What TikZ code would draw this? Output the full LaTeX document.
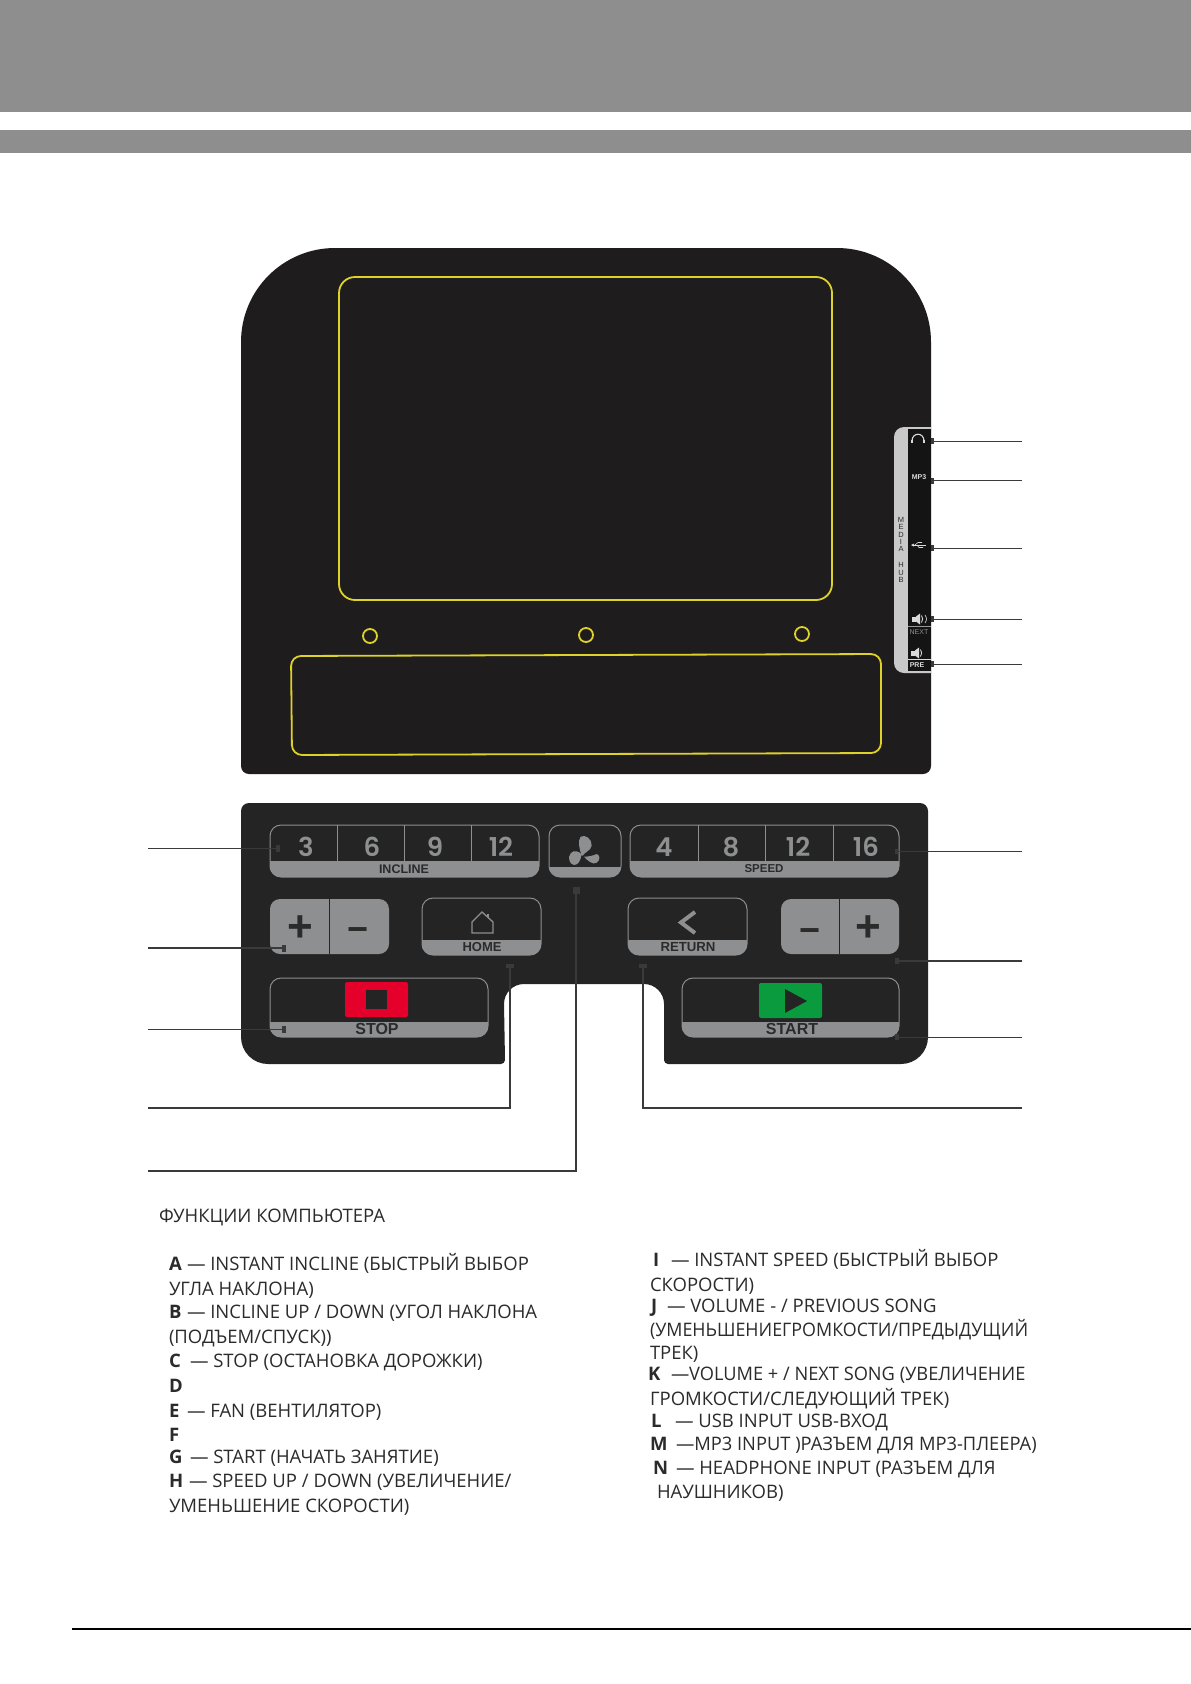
\documentclass[tikz,border=0pt]{standalone}
\usepackage{fontspec}
\setmainfont{Open Sans}[FakeStretch=0.995]
\newfontfamily\digitf{Poppins}[BoldFont=* SemiBold]
\newfontfamily\labf{Liberation Sans}
\definecolor{topgray}{HTML}{8F8E8E}
\definecolor{panelA}{HTML}{1F1C1D}
\definecolor{panelB}{HTML}{242424}
\definecolor{btngray}{HTML}{8E8F90}
\definecolor{yel}{HTML}{DDD22A}
\definecolor{lead}{HTML}{3A3A3A}
\definecolor{txtc}{HTML}{2B2B2B}
\definecolor{redb}{HTML}{E4002B}
\definecolor{greenb}{HTML}{0A9B3E}
\definecolor{hubg}{HTML}{C9C9C9}
\definecolor{hubw}{HTML}{DADADA}
\tikzset{
  ybox/.style={draw=yel,line width=1.8pt},
  txt/.style={anchor=base west,inner sep=0pt,outer sep=0pt,text=txtc,font=\fontsize{18.6}{20}\selectfont},
  key/.style={anchor=base west,inner sep=0pt,outer sep=0pt,text=txtc,font=\fontsize{18.6}{20}\selectfont\bfseries},
  digit/.style={inner sep=0pt,text=btngray,font=\fontsize{26}{27}\selectfont\digitf\bfseries},
  blab/.style={inner sep=0pt,text=txtc,font=\labf\bfseries},
  sym/.style={inner sep=0pt,text=txtc,font=\fontsize{44}{44}\selectfont\labf\bfseries},
  hubt/.style={inner sep=0pt,text=hubw,font=\fontsize{7}{8}\selectfont\labf\bfseries},
  mk/.style={fill=lead,draw=none,inner sep=0pt,minimum width=#1},
  leader/.style={draw=lead,line width=0.9pt},
  leaderb/.style={draw=lead,line width=1.5pt}
}
\newcommand{\btnbox}[5]{%
  \begin{scope}
    \clip[rounded corners=11pt] (#1,#2) rectangle (#3,#4);
    \fill[btngray] (#1,#5) rectangle (#3,#4);
  \end{scope}
  \draw[btngray,line width=1pt,rounded corners=11pt] (#1,#2) rectangle (#3,#4);
}
\newcommand{\pmbox}[5]{%
  \fill[btngray,rounded corners=10pt] (#1,#2) rectangle (#3,#4);
  \draw[panelB,line width=1pt] (#5,#2) -- (#5,#4);
}
\newcommand{\spk}[2]{%
  \fill[hubw] (#1-6,#2-2.5) rectangle (#1-2,#2+2.5);
  \fill[hubw] (#1-2,#2-2.5) -- (#1+2,#2-5.5) -- (#1+2,#2+5.5) -- (#1-2,#2+2.5) -- cycle;
  \draw[hubw,line width=.9pt] (#1+3.5,#2-3.5) .. controls (#1+5,#2-1) and (#1+5,#2+1) .. (#1+3.5,#2+3.5);
}
\newcommand{\xs}[2]{\scalebox{#1}[1]{#2}}
\begin{document}
\begin{tikzpicture}[x=1pt,y=-1pt]
\useasboundingbox (0,0) rectangle (1191,1684);
\fill[white] (0,0) rectangle (1191,1684);
% header bars
\fill[topgray] (0,0) rectangle (1191,112);
\fill[topgray] (0,130) rectangle (1191,153);
\draw[black,line width=1.6pt] (72,1629) -- (1191,1629);
% top panel
\fill[panelA] (241,342) arc[start angle=180,end angle=270,radius=94] -- (837,248)
  arc[start angle=270,end angle=360,radius=94] -- (931,766)
  arc[start angle=0,end angle=90,radius=8] -- (249,774)
  arc[start angle=90,end angle=180,radius=8] -- cycle;
\draw[ybox,rounded corners=16pt] (339,277) rectangle (832,600);
\draw[ybox] (370,636) circle[radius=7];
\draw[ybox] (586,635) circle[radius=7];
\draw[ybox] (802,634) circle[radius=7];
\draw[ybox,rounded corners=10pt] (291,656) -- (881,654) -- (881,753) -- (292,755) -- cycle;
% media hub
\fill[hubg] (931,427) -- (904,427) arc[start angle=270,end angle=180,radius=10] -- (894,663)
  arc[start angle=180,end angle=90,radius=10] -- (931,673) -- cycle;
\fill[black!92] (908,429) rectangle (931,671);
\node[inner sep=0pt,align=center,text=txtc,font=\fontsize{7.5}{7.3}\selectfont\labf] (hub) at (901,550)
  {M\\E\\D\\I\\A\\[1.5pt]\mbox{}\\[0pt]H\\U\\B};
% headphones
\draw[hubw,line width=1.1pt] (912,441) .. controls (912,432) and (924,432) .. (924,441);
\fill[hubw] (911,440) rectangle (913,443);
\fill[hubw] (923,440) rectangle (925,443);
\node[hubt] (mp3) at (919,477) {MP3};
% usb
\draw[hubw,line width=.8pt] (912,545) -- (926,545);
\fill[hubw] (911,545) -- (914,543.5) -- (914,546.5) -- cycle;
\draw[hubw,line width=.6pt] (915,545) -- (918,542.5) -- (922,542.5) (917,545) -- (919,547.5) -- (923,547.5);
\spk{918}{619}
\draw[hubw,line width=.6pt] (925,615) .. controls (927,618) and (927,620) .. (925,623);
\draw[hubw!70!black,line width=.6pt] (908,626) -- (931,626);
\node[hubt,text=btngray,font=\fontsize{7}{8}\selectfont\labf] (next) at (919,632) {NEXT};
\spk{917}{653}
\draw[hubw,line width=.6pt] (908,659) -- (931,659);
\node[hubt] (pre) at (917,665) {PRE};
% lower panel
\fill[panelB] (249,803) -- (920,803) arc[start angle=270,end angle=360,radius=8] -- (928,1037)
  arc[start angle=0,end angle=90,radius=27] -- (668,1064)
  arc[start angle=90,end angle=180,radius=4] -- (664,1004)
  arc[start angle=0,end angle=-90,radius=20] -- (524,984)
  arc[start angle=270,end angle=180,radius=20] -- (505,1060)
  arc[start angle=0,end angle=90,radius=4] -- (268,1064)
  arc[start angle=90,end angle=180,radius=27] -- (241,811)
  arc[start angle=180,end angle=270,radius=8] -- cycle;
% incline
\btnbox{270}{825}{539}{877}{861}
\foreach \xx in {337,404,471}{\draw[btngray,line width=.9pt] (\xx,825) -- (\xx,861);}
\node[digit] (i3) at (306,847) {3};
\node[digit] (i6) at (372,847) {6};
\node[digit] (i9) at (435,847) {9};
\node[digit] (i12) at (501,847) {12};
\node[blab,font=\fontsize{12.5}{13}\selectfont\labf\bfseries] (incl) at (404,869) {INCLINE};
% fan
\btnbox{549}{825}{621}{877}{867}
\begin{scope}[shift={(540,815)},scale=1/3]
\fill[btngray] (125,122) .. controls (118,100) and (112,78) .. (122,65)
  .. controls (135,57) and (157,72) .. (155,92) .. controls (152,108) and (135,110) .. (128,122) -- cycle;
\fill[btngray] (125,118) .. controls (120,110) and (100,103) .. (92,115)
  .. controls (82,127) and (88,148) .. (102,150) .. controls (116,150) and (122,135) .. (125,118) -- cycle;
\fill[btngray] (132,125) .. controls (140,135) and (160,152) .. (170,143)
  .. controls (182,135) and (180,120) .. (170,117) .. controls (160,122) and (145,125) .. (132,125) -- cycle;
\end{scope}
% speed
\btnbox{630}{825}{899}{877}{861}
\foreach \xx in {698,765,833}{\draw[btngray,line width=.9pt] (\xx,825) -- (\xx,861);}
\node[digit] (s4) at (664,847) {4};
\node[digit] (s8) at (731,847) {8};
\node[digit] (s12) at (798,847) {12};
\node[digit] (s16) at (866,847) {16};
\node[blab,font=\fontsize{11.5}{12}\selectfont\labf\bfseries] (spd) at (764,869) {SPEED};
% incline +/-
\pmbox{270}{899}{389}{954}{329}
\node[sym] (ip) at (300,929) {+};
\node[sym] (im) at (358,935) {\fontsize{36}{36}\selectfont −};
% home
\btnbox{422}{898}{541}{955}{940}
\draw[btngray,line width=1.3pt,line join=miter] (472,933) -- (472,922) -- (482,912) -- (493,922) -- (493,933) -- cycle;
\draw[btngray,line width=1.3pt] (488,917) -- (488,914);
\node[blab,font=\fontsize{13}{14}\selectfont\labf\bfseries] (home) at (482,947) {HOME};
% return
\btnbox{628}{898}{747}{955}{940}
\draw[btngray,line width=4pt,line join=miter] (695,912) -- (681,922.5) -- (695,933);
\node[blab,font=\fontsize{13.2}{14}\selectfont\labf\bfseries] (ret) at (688,947) {RETURN};
% speed -/+
\pmbox{781}{899}{899}{954}{839}
\node[sym] (sm) at (810,936) {\fontsize{36}{36}\selectfont −};
\node[sym] (sp) at (868,929) {+};
% stop
\btnbox{270}{978}{488}{1037}{1022}
\fill[redb,rounded corners=2pt] (345,982) rectangle (408,1017);
\fill[panelB] (366,990) rectangle (387,1009);
\node[blab,font=\fontsize{16}{17}\selectfont\labf\bfseries] (stop) at (377,1029) {STOP};
% start
\btnbox{682}{978}{899}{1037}{1022}
\fill[greenb,rounded corners=2pt] (759,983) rectangle (822,1018);
\fill[panelB] (785,989) -- (807,1001) -- (785,1013) -- cycle;
\node[blab,font=\fontsize{16}{17}\selectfont\labf\bfseries] (start) at (792,1029) {START};
% markers
\node[mk=4pt,minimum height=7pt] (mA) at (278,848) {};
\node[mk=4pt,minimum height=7pt] (mB) at (284,948) {};
\node[mk=4pt,minimum height=7pt] (mC) at (284,1029) {};
\node[mk=8pt,minimum height=4pt] (mD) at (510,966) {};
\node[mk=7pt,minimum height=7pt] (mE) at (576,890) {};
\node[mk=8pt,minimum height=4pt] (mF) at (643,966) {};
\node[mk=4pt,minimum height=6pt] (mG) at (897,1037) {};
\node[mk=4pt,minimum height=6pt] (mH) at (897,961) {};
\node[mk=3pt,minimum height=5pt] (mI) at (896,851) {};
\node[mk=3pt,minimum height=6pt] (mJ) at (932,664) {};
\node[mk=3pt,minimum height=6pt] (mK) at (932,619) {};
\node[mk=3pt,minimum height=6pt] (mL) at (932,548) {};
\node[mk=3pt,minimum height=6pt] (mM) at (932,480.5) {};
\node[mk=3pt,minimum height=6pt] (mN) at (932,441) {};
\coordinate (cA) at (148,848);
\coordinate (cB) at (148,948);
\coordinate (cC) at (148,1029);
\coordinate (cD) at (148,1108);
\coordinate (cE) at (148,1171);
\coordinate (cF) at (1022,1108);
\coordinate (cG) at (1022,1037);
\coordinate (cH) at (1022,961);
\coordinate (cI) at (1022,851);
\coordinate (cJ) at (1022,664);
\coordinate (cK) at (1022,619);
\coordinate (cL) at (1022,548);
\coordinate (cM) at (1022,480.5);
\coordinate (cN) at (1022,441);
\draw[leader] (mA) -- (cA);
\draw[leaderb] (mB) -- (cB);
\draw[leader] (mC) -- (cC);
\draw[leaderb] (mD.south) |- (cD);
\draw[leaderb] (mE.south) |- (cE);
\draw[leaderb] (mF.south) |- (cF);
\draw[leader] (mG) -- (cG);
\draw[leaderb] (mH) -- (cH);
\draw[leader] (mI) -- (cI);
\foreach \n in {J,K,L,M,N}{\draw[leader] (m\n) -- (c\n);}
% text left
\node[txt] (title) at (159,1222) {ФУНКЦИИ КОМПЬЮТЕРА};
\node[key] (kA) at (169,1270) {A};
\node[txt] (tA) at (187,1270) {— INSTANT INCLINE (БЫСТРЫЙ ВЫБОР};
\node[txt] (tA2) at (169,1295) {УГЛА НАКЛОНА)};
\node[key] (kB) at (169,1318) {B};
\node[txt] (tB) at (187,1318) {— INCLINE UP / DOWN (УГОЛ НАКЛОНА};
\node[txt] (tB2) at (169,1343) {(ПОДЪЕМ/СПУСК))};
\node[key] (kC) at (169,1367) {C};
\node[txt] (tC) at (190,1367) {— STOP (ОСТАНОВКА ДОРОЖКИ)};
\node[key] (kD) at (169,1392) {D};
\node[key] (kE) at (169,1417) {E};
\node[txt] (tE) at (187,1417) {— FAN (ВЕНТИЛЯТОР)};
\node[key] (kF) at (169,1441) {F};
\node[key] (kG) at (169,1463) {G};
\node[txt] (tG) at (190,1463) {— START (НАЧАТЬ ЗАНЯТИЕ)};
\node[key] (kH) at (169,1487) {H};
\node[txt] (tH) at (189,1487) {— SPEED UP / DOWN (УВЕЛИЧЕНИЕ/};
\node[txt] (tH2) at (169,1512) {УМЕНЬШЕНИЕ СКОРОСТИ)};
% text right
\node[key] (kI) at (653,1266) {I};
\node[txt] (tI) at (671,1266) {— INSTANT SPEED (БЫСТРЫЙ ВЫБОР};
\node[txt] (tI2) at (650,1291) {СКОРОСТИ)};
\node[key] (kJ) at (651,1312) {J};
\node[txt] (tJ) at (667,1312) {— VOLUME - / PREVIOUS SONG};
\node[txt] (tJ2) at (650,1336) {\xs{.965}{(УМЕНЬШЕНИЕГРОМКОСТИ/ПРЕДЫДУЩИЙ}};
\node[txt] (tJ3) at (650,1359) {ТРЕК)};
\node[key] (kK) at (648,1380) {K};
\node[txt] (tK) at (671,1380) {\xs{.985}{—VOLUME + / NEXT SONG (УВЕЛИЧЕНИЕ}};
\node[txt] (tK2) at (650,1405) {ГРОМКОСТИ/СЛЕДУЮЩИЙ ТРЕК)};
\node[key] (kL) at (651,1427) {L};
\node[txt] (tL) at (675,1427) {— USB INPUT USB-ВХОД};
\node[key] (kM) at (650,1450) {M};
\node[txt] (tM) at (676,1450) {\xs{.99}{—MP3 INPUT )РАЗЪЕМ ДЛЯ MP3-ПЛЕЕРА)}};
\node[key] (kN) at (653,1474) {N};
\node[txt] (tN) at (676,1474) {— HEADPHONE INPUT (РАЗЪЕМ ДЛЯ};
\node[txt] (tN2) at (657,1498) {НАУШНИКОВ)};
\end{tikzpicture}
\end{document}
